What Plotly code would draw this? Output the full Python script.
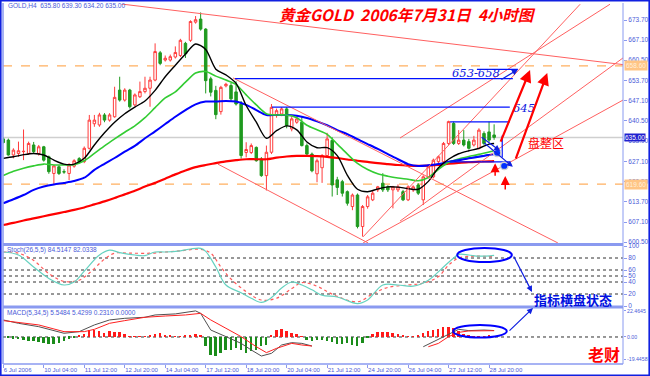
import plotly.graph_objects as go

# ---------------- data ----------------
bars = list(range(98))
opens = [634.5,634.1,629.2,629.7,630.3,629.7,632.5,629.7,631.9,628.6,
         623.1,625.3,623.7,623.1,625.5,628.0,627.0,631.4,639.5,639.1,
         642.4,640.7,641.8,650.6,647.3,650.6,645.7,648.4,650.1,651.2,
         653.9,662.9,660.5,660.5,661.5,662.0,666.0,667.0,673.0,674.0,
         670.7,654.3,650.5,643.5,652.0,652.1,650.0,646.0,630.0,630.0,
         631.7,627.9,622.4,630.1,642.2,642.7,644.4,637.8,640.0,640.0,
         632.3,629.5,623.0,625.0,629.0,634.0,621.0,620.4,617.1,612.2,
         616.0,605.6,612.2,614.4,617.7,619.9,618.7,617.7,617.7,617.1,
         614.4,617.7,619.3,614.4,622.0,622.0,627.0,627.0,633.0,639.6,
         633.0,634.1,633.6,632.5,631.4,636.3,636.8,635.8]
highs = [635.0,634.6,631.4,633.6,637.6,633.6,633.5,632.5,632.2,629.0,
         626.0,625.8,624.5,626.5,627.8,628.5,632.0,642.4,642.4,643.1,
         643.0,643.0,651.7,655.0,651.2,651.0,649.5,653.4,655.0,655.0,
         666.0,663.5,662.0,662.3,665.0,667.5,666.5,673.6,675.0,676.2,
         671.0,655.0,652.0,652.0,653.0,653.0,653.5,647.0,633.4,633.0,
         632.0,628.5,632.3,646.0,644.5,645.0,645.0,642.0,642.0,642.0,
         633.0,630.0,628.0,629.5,636.5,635.0,622.0,621.0,617.5,616.5,
         616.5,612.7,616.0,617.5,619.0,623.2,619.2,619.0,619.5,617.7,
         619.2,619.2,619.9,622.5,625.8,628.0,629.0,633.5,640.5,640.2,
         637.4,637.4,634.5,635.5,638.0,637.0,640.2,639.3]
lows = [633.0,629.0,628.1,628.6,627.5,629.2,629.8,629.0,627.0,623.0,
        619.6,622.6,623.0,620.9,625.0,626.5,626.5,631.0,638.5,638.5,
        640.0,640.2,641.5,646.8,646.8,644.5,645.2,648.0,649.5,645.1,
        653.5,658.8,660.0,660.0,661.0,661.5,661.2,666.5,672.5,670.2,
        649.5,648.5,641.0,642.5,651.5,647.0,645.5,628.0,628.4,629.5,
        627.0,622.0,617.5,629.5,641.5,642.0,638.0,637.0,639.5,632.0,
        629.0,623.5,620.2,620.0,628.5,615.5,616.0,615.5,612.5,611.0,
        605.0,602.3,611.5,614.0,617.0,617.0,617.0,611.6,617.0,614.0,
        614.0,617.0,616.0,612.7,621.5,621.5,626.5,626.5,632.5,632.5,
        632.5,632.0,631.0,632.0,631.0,632.5,633.5,634.2]
closes = [633.3,629.2,630.8,630.6,630.4,633.0,630.3,631.9,627.5,623.7,
          625.6,623.1,623.6,625.9,627.3,627.0,631.4,640.7,640.7,642.4,
          640.7,642.4,648.2,647.3,650.6,645.1,649.0,650.1,651.2,653.9,
          663.3,659.4,661.1,661.6,663.0,667.0,662.5,673.2,673.8,670.7,
          653.7,649.9,642.5,651.5,652.5,647.7,646.0,629.0,631.0,632.3,
          627.3,622.4,630.1,644.9,643.8,644.4,638.9,641.1,641.1,632.3,
          629.5,624.0,627.3,629.0,634.5,619.3,618.5,616.6,613.3,616.0,
          605.6,612.2,615.4,616.6,618.7,617.7,617.7,618.7,618.7,614.4,
          618.7,618.7,616.6,622.0,625.3,627.5,628.6,633.0,640.2,633.0,
          634.1,632.5,631.4,634.1,637.4,633.0,634.1,635.0]

ma_x = [0,2,4,6,8,10,12,14,16,18,20,22,24,26,28,30,32,34,36,38,40,42,44,46,48,
        50,52,54,56,58,60,62,64,66,68,70,72,74,76,78,80,82,84,86,88,90,92,94,96,97]
ma_black = [628.1,628.6,629.3,629.7,629.2,627.5,626.2,626.2,628.1,632.5,636.5,640.0,
            642.8,645.0,647.0,650.5,655.0,658.8,662.5,665.8,664.0,657.5,655.6,652.8,
            645.5,640.0,634.7,637.2,638.8,637.5,633.5,631.6,631.6,629.0,622.5,617.9,
            617.1,618.0,618.7,618.6,618.1,617.9,620.5,625.0,627.8,629.6,630.6,631.4,
            632.8,633.0]
ma_green = [622.4,623.8,624.8,625.6,626.2,625.9,625.9,626.0,627.3,629.7,632.2,634.5,
            636.7,638.8,641.5,644.8,648.0,650.0,653.2,656.2,656.7,655.2,653.9,652.4,
            649.0,645.7,642.8,642.4,642.4,641.5,639.0,637.5,636.0,632.8,629.5,626.4,
            624.4,623.0,622.2,621.6,621.2,620.7,621.8,624.5,626.8,627.9,628.7,629.4,
            630.2,630.5]
ma_blue = [613.3,614.6,616.0,617.7,618.8,619.5,620.0,620.6,621.7,624.3,626.3,628.2,
           630.3,632.2,634.7,637.0,639.4,641.8,644.0,645.9,646.8,646.8,647.0,646.8,
           645.7,644.0,642.4,642.4,642.4,642.1,641.4,640.3,639.0,637.4,636.1,634.4,
           632.8,631.2,629.5,627.8,626.2,625.6,625.8,626.2,626.9,627.4,628.1,628.6,
           629.2,629.4]
ma_red = [606.1,606.8,607.6,608.3,609.0,609.7,610.4,611.1,611.9,612.9,613.9,615.0,
          616.2,617.4,618.8,620.0,621.4,622.8,624.1,625.2,625.9,626.5,627.1,627.5,
          627.8,627.8,627.8,628.3,628.7,628.9,628.9,628.8,628.6,628.2,627.7,627.3,
          626.9,626.5,626.2,625.9,625.7,625.6,625.7,625.9,626.3,626.6,626.8,627.0,
          627.1,627.2]

stoch_main_x = [0,3,6,9,12,14,16,19,21,23,26,28,30,32,35,37,39,40,42,44,47,49,51,53,
                55,57,59,61,63,66,70,72,75,78,81,84,87,89,90,92,94,97]
stoch_main = [90,85,65,46,35,40,58,85,93,89,85,84,90,90,92,95,96,91,65,35,22,13,6,14,
              30,40,35,27,18,15,4,10,35,35,33,43,65,80,86,85,83,84.5]
stoch_sig_x = [0,3,6,9,12,15,17,20,22,25,29,32,35,39,41,43,45,48,51,54,57,59,62,64,
               66,70,73,76,80,83,86,88,90,93,97]
stoch_sig = [90,88,76,54,41,43,55,78,88,88,88,90,92,94.5,88,65,45,24,10,13,29,39,33,
             24,16,7,20,31,35,38,49,68,80,83,82]

macd_main_x = [0,3,7,12,15,18,21,24,28,30,34,36,38,39,41,44,47,49,51,53,55,57,59,61,
               72,83,85,87,89,90,92,95,97]
macd_main = [14.7,11.8,8.9,3.2,4.6,10.4,14.7,16.1,17.0,19.0,19.9,21.3,22.5,20.4,6.0,0.3,
             -5.5,-11.2,-16.4,-14.1,-6.9,-4.9,-5.5,-7.8,None,-8.4,-4.0,0.3,4.6,6.6,5.5,
             6.0,5.55]
macd_sig_x = [0,3,7,12,16,18,21,24,28,32,36,39,41,44,47,50,52,54,57,59,61,
              72,84,86,88,90,92,95,97]
macd_sig = [14.1,12.4,10.4,4.6,4.6,6.6,11.8,14.1,17.0,18.1,19.0,20.4,14.7,7.5,0.3,-8.4,
            -13.5,-9.8,-5.5,-6.9,-7.8,None,-8.4,-5.5,0.3,4.0,5.2,5.2,5.43]
macd_hist = [-0.3,-0.9,-1.5,-2.0,-2.6,-3.2,-3.7,-4.6,-5.2,-5.8,
             -6.3,-5.5,-3.5,-1.5,-0.9,1.4,2.9,6.3,5.8,4.9,
             3.5,4.9,4.0,4.0,2.9,0.6,0.6,0.6,0.6,1.2,
             2.9,3.5,2.0,1.2,0.6,0.6,1.2,2.0,2.9,1.2,
             -8.1,-15.3,-16.7,-13.8,-11.5,-10.9,-9.5,-10.9,-13.8,-12.4,
             -10.9,-8.1,-6.6,2.0,5.8,6.9,4.9,3.5,2.9,0.6,
             -2.3,-3.7,-2.3,-2.3,-3.7,-4.6,-5.8,-5.8,-5.2,-6.6,
             -7.5,-5.2,-1.0,2.6,4.0,4.0,4.0,3.5,2.9,1.2,
             0.6,0.6,1.2,3.5,4.9,6.3,7.2,8.4,8.6,7.8,
             4.9,2.9,1.2,0.6,0.6,0.6,1.2,0.6]

tick_bars = [0,8,16,24,32,40,48,56,64,72,80,88,96]
tick_labels = ["6 Jul 2006","10 Jul 04:00","11 Jul 12:00","12 Jul 20:00","14 Jul 04:00",
               "17 Jul 12:00","18 Jul 20:00","20 Jul 04:00","21 Jul 12:00","24 Jul 20:00",
               "26 Jul 04:00","27 Jul 12:00","28 Jul 20:00"]
price_ticks = [673.70,667.10,660.50,653.70,647.10,640.50,633.90,627.10,620.50,613.70,607.10,600.50]
stoch_ticks = [0,20,40,50,60,80,100]
stoch_levels = [20,40,50,60,80]
macd_ticks = [22.4645,0.0,-19.4458]
macd_tick_labels = ["22.4645","0.00","-19.4458"]
last_price = 635.00
orange_levels = [658.6, 619.6]

# ---------------- geometry helpers ----------------
W, H = 650, 376
L, R, T, B = 3, 27, 4, 12
PW, PH = W - L - R, H - T - B
def px(X):  # pixel x -> paper
    return (X - L) / PW
def py(Y):  # pixel y -> paper
    return (H - B - Y) / PH

AXC = "#8a9af0"
TXC = "#4a5ad8"
FONT = "Liberation Sans"

fig = go.Figure()

fig.add_trace(go.Candlestick(
    x=bars, open=opens, high=highs, low=lows, close=closes,
    increasing=dict(line=dict(color="#ff3b3b", width=1), fillcolor="white"),
    decreasing=dict(line=dict(color="#1f9a1f", width=1), fillcolor="#1f9a1f"),
    whiskerwidth=0, xaxis="x", yaxis="y", showlegend=False, hoverinfo="skip"))

for vals, col, w in [(ma_red, "#ff0000", 2.2), (ma_blue, "#0000ff", 2),
                     (ma_green, "#33cc33", 1.6), (ma_black, "#000000", 1.4)]:
    fig.add_trace(go.Scatter(x=ma_x, y=vals, mode="lines",
                             line=dict(color=col, width=w, shape="spline", smoothing=0.8),
                             xaxis="x", yaxis="y", showlegend=False, hoverinfo="skip"))

fig.add_trace(go.Scatter(x=stoch_sig_x, y=stoch_sig, mode="lines",
                         line=dict(color="#ff5a5a", width=1.2, dash="dot", shape="spline"),
                         xaxis="x", yaxis="y2", showlegend=False, hoverinfo="skip"))
fig.add_trace(go.Scatter(x=stoch_main_x, y=stoch_main, mode="lines",
                         line=dict(color="#66d2c0", width=1.2, shape="spline"),
                         xaxis="x", yaxis="y2", showlegend=False, hoverinfo="skip"))

fig.add_trace(go.Bar(x=bars, y=macd_hist, width=0.38,
                     marker=dict(color=["#ff1a1a" if v >= 0 else "#1a8c1a" for v in macd_hist],
                                 line=dict(width=0)),
                     xaxis="x", yaxis="y3", showlegend=False, hoverinfo="skip"))
fig.add_trace(go.Scatter(x=macd_main_x, y=macd_main, mode="lines",
                         line=dict(color="#505050", width=1), connectgaps=False,
                         xaxis="x", yaxis="y3", showlegend=False, hoverinfo="skip"))
fig.add_trace(go.Scatter(x=macd_sig_x, y=macd_sig, mode="lines",
                         line=dict(color="#ff2020", width=1), connectgaps=False,
                         xaxis="x", yaxis="y3", showlegend=False, hoverinfo="skip"))

shapes = []
shapes.append(dict(type="line", xref="paper", yref="y", x0=0, x1=1, y0=last_price, y1=last_price,
                   line=dict(color="#cfcfcf", width=1.5), layer="below"))
for lv in orange_levels:
    shapes.append(dict(type="line", xref="paper", yref="y", x0=0, x1=1, y0=lv, y1=lv,
                       line=dict(color="#ffb060", width=1.2, dash="dash"), layer="below"))
for lv in stoch_levels:
    shapes.append(dict(type="line", xref="paper", yref="y2", x0=0, x1=1, y0=lv, y1=lv,
                       line=dict(color="#303030", width=1, dash="dot"), layer="below"))
shapes.append(dict(type="line", xref="paper", yref="y3", x0=0, x1=1, y0=0, y1=0,
                   line=dict(color="#303030", width=1, dash="dot"), layer="below"))

# hand-drawn trend lines (bar index, price)
red_lines = [((23.3, 678.98), (122.47, 659.0)),
             ((45.4, 654.6), (109.6, 600.2)),
             ((42.4, 626.2), (72.1, 600.2)),
             ((71.1, 602.2), (114.0, 678.9)),
             ((78.4, 607.4), (122.47, 661.2)),
             ((71.1, 600.2), (122.47, 647.3)),
             ((78.4, 634.8), (119.9, 678.9))]
for (a, b) in red_lines:
    shapes.append(dict(type="line", xref="x", yref="y", x0=a[0], y0=a[1], x1=b[0], y1=b[1],
                       line=dict(color="#ff6060", width=1)))
blue_lines = [((45.8, 654.4), (100.7, 654.4)),
              ((53.1, 645.0), (100.1, 645.0)),
              ((88.3, 640.1), (100.1, 640.1)),
              ((88.3, 626.9), (100.1, 626.9)),
              ((87.7, 627.0), (96.2, 629.3)),
              ((93.6, 657.4), (101.7, 657.4)),
              ((98.6, 635.6), (98.6, 628.4))]
for (a, b) in blue_lines:
    shapes.append(dict(type="line", xref="x", yref="y", x0=a[0], y0=a[1], x1=b[0], y1=b[1],
                       line=dict(color="#0010ff", width=1.2)))

shapes.append(dict(type="circle", xref="x", yref="y2", x0=89.7, x1=100.5, y0=73.3, y1=96.7,
                   line=dict(color="#0000ff", width=2)))
shapes.append(dict(type="circle", xref="x", yref="y3", x0=88.9, x1=99.5, y0=-0.5, y1=10.4,
                   line=dict(color="#0000ff", width=2)))
for (bx, pv) in [(97.6, 629.9), (99.0, 625.6)]:
    shapes.append(dict(type="circle", xref="x", yref="y", x0=bx - 0.75, x1=bx + 0.75,
                       y0=pv - 1.2, y1=pv + 1.2, fillcolor="#0030ff",
                       line=dict(color="#d0d0d0", width=1.5)))

def hline(Y, X0, X1, col, w):
    shapes.append(dict(type="line", xref="paper", yref="paper", x0=px(X0), x1=px(X1),
                       y0=py(Y), y1=py(Y), line=dict(color=col, width=w)))
def vline(X, Y0, Y1, col, w):
    shapes.append(dict(type="line", xref="paper", yref="paper", x0=px(X), x1=px(X),
                       y0=py(Y0), y1=py(Y1), line=dict(color=col, width=w)))
hline(244.5, 3, 623, AXC, 3)
hline(307, 3, 623, AXC, 3)
hline(364, 3, 623, AXC, 1.5)
vline(623, 3, 364, AXC, 1)
vline(3, 3, 364, AXC, 1.5)
shapes.append(dict(type="rect", xref="paper", yref="paper", x0=px(0.8), x1=px(649.2),
                   y0=py(375.2), y1=py(0.8), line=dict(color="#1020e0", width=1.6)))

ann = []
def text(X, Y, s, size, col, anchor="left", bold=False, italic=False, family=FONT):
    t = s
    if italic:
        t = "<i>" + t + "</i>"
    if bold:
        t = "<b>" + t + "</b>"
    ann.append(dict(xref="paper", yref="paper", x=px(X), y=py(Y), text=t, showarrow=False,
                    xanchor=anchor, yanchor="middle", font=dict(size=size, color=col, family=family)))

text(6, 5.5, "GOLD,H4  635.80 639.30 634.20 635.00", 6.5, TXC)
text(5, 250, "Stoch(26,5,5) 84.5147 82.0338", 6.5, TXC)
text(5, 313, "MACD(5,34,5) 5.5484 5.4299 0.2310 0.0000", 6.5, TXC)
text(407, 13.5, "黄金GOLD  2006年7月31日  4小时图", 15.5, "#ff0000", anchor="center",
     bold=True, italic=True, family="Noto Sans CJK SC")
text(476, 73, "653-658", 11.5, "#1020e0", anchor="center", italic=True, family="DejaVu Serif")
text(524, 108, "645", 11.5, "#1020e0", anchor="center", italic=True, family="DejaVu Serif")
text(546, 142, "盘整区", 12, "#ff0000", anchor="center", family="Noto Sans CJK SC")
text(573, 299, "指标横盘状态", 13, "#0010e0", anchor="center", bold=True, family="Noto Sans CJK SC")
text(604, 354, "老财", 16, "#ff0000", anchor="center", bold=True, family="Noto Sans CJK SC")

ann.append(dict(xref="paper", yref="y", x=px(624), y=last_price, text="635.00", showarrow=False,
                xanchor="left", yanchor="middle", bgcolor="#2020d0", borderpad=0,
                font=dict(size=6.5, color="white", family=FONT)))
for lv in orange_levels:
    ann.append(dict(xref="paper", yref="y", x=px(624), y=lv, text="%.2f" % lv, showarrow=False,
                    xanchor="left", yanchor="middle", bgcolor="#ffc585", borderpad=1,
                    font=dict(size=6.5, color="#fff0dd", family=FONT)))

def arrow(xref, yref, hx, hy, dx, dy, col, w, head=2, size=1.0):
    ann.append(dict(xref=xref, yref=yref, x=hx, y=hy, ax=dx, ay=dy, axref="pixel", ayref="pixel",
                    showarrow=True, arrowhead=head, arrowsize=size, arrowwidth=w, arrowcolor=col,
                    text=""))
arrow("x", "y", 104.1, 657.2, -30, 73, "#ff0000", 2.2, 2, 1.1)
arrow("x", "y", 107.5, 656.2, -32, 87, "#ff0000", 2.2, 2, 1.1)
arrow("x", "y", 97.2, 626.5, 0, 14, "#ff0000", 1.5, 2, 1.2)
arrow("x", "y", 99.2, 622.3, 0, 15, "#ff0000", 1.5, 2, 1.2)
arrow("x", "y", 101.7, 657.4, -18, 11, "#1020e0", 1.2, 2, 1)
arrow("x", "y", 98.2, 630.5, -20, -15, "#1020e0", 1.2, 2, 1)
arrow("x", "y", 100.7, 625.3, -30, -25, "#1020e0", 1.2, 2, 1)
arrow("paper", "paper", px(532), py(292), -19, -37, "#1020e0", 1.2, 2, 1)
arrow("paper", "paper", px(533), py(308), -25, 24, "#1020e0", 1.2, 2, 1)

axfont = dict(size=6.5, color=TXC, family=FONT)
fig.update_layout(
    width=W, height=H, margin=dict(l=L, r=R, t=T, b=B, autoexpand=False),
    paper_bgcolor="white", plot_bgcolor="white", showlegend=False, bargap=0,
    xaxis=dict(domain=[0, 1], range=[-0.06, (623 - 3.3) / 5.06], anchor="y3",
               tickmode="array", tickvals=tick_bars, ticktext=tick_labels, tickangle=0,
               ticks="outside", ticklen=3, tickcolor=AXC,
               tickfont=dict(size=6, color=TXC, family=FONT), automargin=False,
               ticklabelposition="outside right", showgrid=False, zeroline=False,
               showline=False, rangeslider=dict(visible=False), fixedrange=True),
    yaxis=dict(domain=[py(244), 1], range=[599.85, 678.98], side="right", anchor="x",
               tickmode="array", tickvals=price_ticks, ticktext=["%.2f" % v for v in price_ticks],
               ticks="outside", ticklen=3, tickcolor=AXC, tickfont=axfont, automargin=False,
               showgrid=False, zeroline=False, showline=False),
    yaxis2=dict(domain=[py(306), py(246)], range=[0, 100], side="right", anchor="x",
                tickmode="array", tickvals=stoch_ticks, ticktext=[str(v) for v in stoch_ticks],
                ticks="outside", ticklen=3, tickcolor=AXC, tickfont=axfont, automargin=False,
                showgrid=False, zeroline=False, showline=False),
    yaxis3=dict(domain=[0, py(308)], range=[-23.3, 25.0], side="right", anchor="x",
                tickmode="array", tickvals=macd_ticks, ticktext=macd_tick_labels,
                ticks="outside", ticklen=2, tickcolor=AXC,
                tickfont=dict(size=5.2, color=TXC, family=FONT), automargin=False,
                showgrid=False, zeroline=False, showline=False),
    shapes=shapes, annotations=ann,
)

fig.write_html("out.html", config={"displayModeBar": False},
               post_script="document.body.style.margin='0px';document.body.style.overflow='hidden';")
